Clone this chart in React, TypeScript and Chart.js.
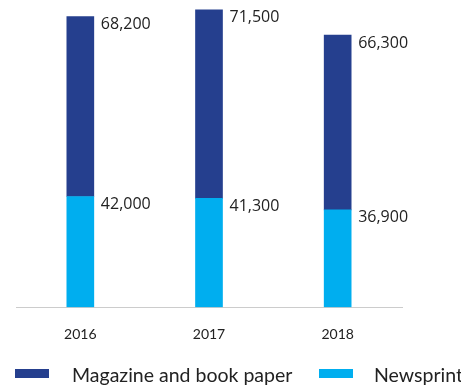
import React, { useEffect, useRef } from "react";
import { Chart, registerables } from "chart.js";

Chart.register(...registerables);

const categories = ["2016", "2017", "2018"];
const newsprint = [42000, 41300, 36900];
const magazine = [68200, 71500, 66300];
const seriesNames = ["Magazine and book paper", "Newsprint"];

const DARK = "#253F8E";
const LIGHT = "#00AEEF";

const labelPlugin = {
  id: "segLabels",
  afterDatasetsDraw(chart: any) {
    const ctx = chart.ctx;
    ctx.save();
    ctx.font = '16px "Open Sans"';
    ctx.fillStyle = "#222";
    ctx.textAlign = "left";
    ctx.textBaseline = "middle";
    chart.data.datasets.forEach((ds: any, di: number) => {
      const meta = chart.getDatasetMeta(di);
      meta.data.forEach((bar: any, i: number) => {
        const v = ds.data[i] as number;
        const right = bar.x + bar.width / 2;
        ctx.fillText(v.toLocaleString("en-US"), right + 7, bar.y + 8);
      });
    });
    ctx.restore();
  },
};

export default function App() {
  const ref = useRef<HTMLCanvasElement>(null);
  useEffect(() => {
    if (!ref.current) return;
    const chart = new Chart(ref.current, {
      type: "bar",
      data: {
        labels: categories,
        datasets: [
          { label: seriesNames[1], data: newsprint, backgroundColor: LIGHT, barThickness: 27 },
          { label: seriesNames[0], data: magazine, backgroundColor: DARK, barThickness: 27 },
        ],
      },
      options: {
        animation: false,
        responsive: false,
        layout: { padding: { left: 16, right: 59, top: 4, bottom: 23 } },
        plugins: { legend: { display: false }, tooltip: { enabled: false } },
        scales: {
          x: {
            stacked: true,
            grid: { display: false, drawTicks: false },
            border: { display: true, color: "#CCCCCC", width: 1 },
            ticks: { color: "#222", font: { family: "Lato", size: 14 }, padding: 19 },
          },
          y: {
            stacked: true,
            display: false,
            min: 0,
            max: 115000,
          },
        },
      },
      plugins: [labelPlugin],
    });
    return () => chart.destroy();
  }, []);

  const legendText: React.CSSProperties = {
    position: "absolute",
    top: 364,
    fontFamily: "Lato",
    fontSize: 19.5,
    lineHeight: "22px",
    color: "#222",
    whiteSpace: "nowrap",
  };
  return (
    <div style={{ position: "fixed", left: 0, top: 0, width: 461, height: 385, background: "#fff" }}>
      <canvas ref={ref} width={461} height={385} style={{ position: "absolute", left: 0, top: 0 }} />
      <div style={{ position: "absolute", left: 15, top: 369, width: 34, height: 9, background: DARK }} />
      <div style={{ ...legendText, left: 72 }}>{seriesNames[0]}</div>
      <div style={{ position: "absolute", left: 319, top: 369, width: 34, height: 9, background: LIGHT }} />
      <div style={{ ...legendText, left: 374 }}>{seriesNames[1]}</div>
    </div>
  );
}
